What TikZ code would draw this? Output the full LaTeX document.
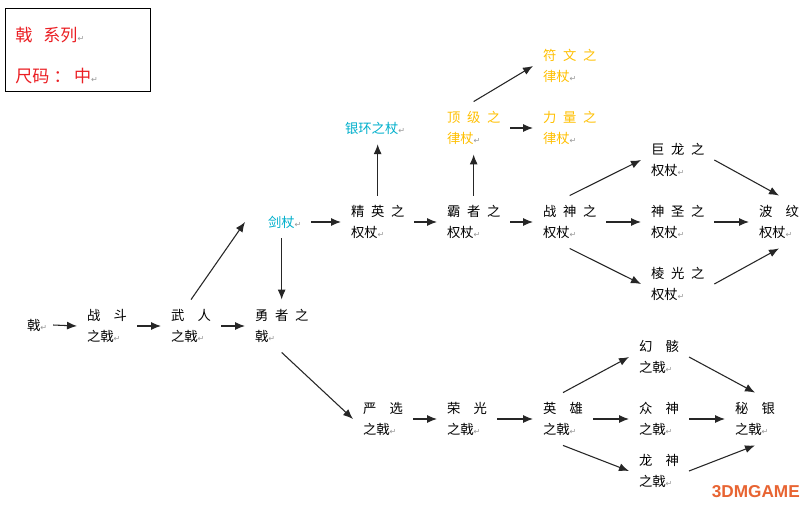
\documentclass[tikz,border=0pt]{standalone}
\usepackage{fontspec}
\setmainfont{Noto Sans CJK SC}
\newfontfamily\djv{DejaVu Sans}
\newfontfamily\wmfont{Liberation Sans}
\usetikzlibrary{arrows.meta}
\definecolor{cyantext}{RGB}{0,176,204}
\definecolor{goldtext}{RGB}{255,192,0}
\definecolor{redtext}{RGB}{235,30,35}
\definecolor{pmgray}{RGB}{150,150,150}
\definecolor{wmcolor}{RGB}{232,100,50}
\newcommand\pmk{{\djv\fontsize{6pt}{6pt}\selectfont\color{pmgray}↵}}
\newcommand\hs{\hspace{0.5em}}
\newcommand\fs{\hspace{1em}}
\tikzset{
  item/.style={anchor=west, inner sep=0pt, outer sep=7.5pt, align=left,
    font=\fontsize{10pt}{15.4pt}\selectfont, text=black},
  legendtext/.style={anchor=west, inner sep=0pt, text=redtext,
    font=\fontsize{12.8pt}{14pt}\selectfont},
  arr/.style={-{Latex[length=7.5pt,width=6pt]}, line width=0.8pt, draw=black!85}
}
\begin{document}
\begin{tikzpicture}[x=0.75pt,y=-0.75pt]
\useasboundingbox (0,0) rectangle (803,507);
\fill[white] (0,0) rectangle (803,507);
% legend box
\draw[line width=0.75pt] (5,8) rectangle (150,91);
\node[legendtext] (lg1) at (15,35) {戟\hspace{0.65em}系列\pmk};
\node[legendtext] (lg2) at (15,76) {尺码\hspace{0.25em}：\hspace{0.2em}中\pmk};
% nodes (x = text left - 10px because of the outer sep)
\node[item] (ji) at (17,325) {戟\pmk};
\node[item] (zd) at (77,326) {战\fs 斗\\之戟\pmk};
\node[item] (wr) at (161,326) {武\fs 人\\之戟\pmk};
\node[item] (yz) at (245,326) {勇\hs 者\hs 之\\戟\pmk};
\node[item, text=cyantext] (jz) at (258,222) {剑杖\pmk};
\node[item] (jy) at (341,222) {精\hs 英\hs 之\\权杖\pmk};
\node[item, text=cyantext] (yh) at (335,128) {银环之杖\pmk};
\node[item] (bz) at (437,222) {霸\hs 者\hs 之\\权杖\pmk};
\node[item, text=goldtext] (dj) at (437,128) {顶\hs 级\hs 之\\律杖\pmk};
\node[item, text=goldtext] (fw) at (533,66) {符\hs 文\hs 之\\律杖\pmk};
\node[item, text=goldtext] (ll) at (533,128) {力\hs 量\hs 之\\律杖\pmk};
\node[item] (zs) at (533,222) {战\hs 神\hs 之\\权杖\pmk};
\node[item] (jl) at (641,160) {巨\hs 龙\hs 之\\权杖\pmk};
\node[item] (ss) at (641,222) {神\hs 圣\hs 之\\权杖\pmk};
\node[item] (lgz) at (641,284) {棱\hs 光\hs 之\\权杖\pmk};
\node[item] (bw) at (749,222) {波\fs 纹\\权杖\pmk};
\node[item] (yx) at (353,419) {严\fs 选\\之戟\pmk};
\node[item] (rg) at (437,419) {荣\fs 光\\之戟\pmk};
\node[item] (yxz) at (533,419) {英\fs 雄\\之戟\pmk};
\node[item] (hh) at (629,357) {幻\fs 骸\\之戟\pmk};
\node[item] (zhs) at (629,419) {众\fs 神\\之戟\pmk};
\node[item] (ls) at (629,471) {龙\fs 神\\之戟\pmk};
\node[item] (my) at (725,419) {秘\fs 银\\之戟\pmk};
% watermark
\node[anchor=east, inner sep=0pt, text=wmcolor, font=\wmfont\bfseries\fontsize{12.9pt}{13pt}\selectfont] (wm) at (800,492) {3DMGAME};
% arrows
\draw[arr] ([xshift=-3pt]ji.east) -- (zd.west);
\draw[arr] (zd.east) -- (wr.west);
\draw[arr] (wr.east) -- (yz.west);
\draw[arr] (wr.north) -- ([xshift=-9.75pt]jz.west);
\draw[arr] (jz.south -| yz.north) -- (yz.north);
\draw[arr] (jz.east) -- (jy.west);
\draw[arr] (jy.north) -- (jy.north |- yh.south);
\draw[arr] (jy.east) -- (bz.west);
\draw[arr] (bz.north) -- (dj.south);
\draw[arr] (dj.north) -- (fw.west);
\draw[arr] (dj.east) -- (ll.west);
\draw[arr] (bz.east) -- (zs.west);
\draw[arr] (zs.north) -- (jl.west);
\draw[arr] (zs.east) -- (ss.west);
\draw[arr] (zs.south) -- (lgz.west);
\draw[arr] (jl.east) -- (bw.north);
\draw[arr] (ss.east) -- (bw.west);
\draw[arr] (lgz.east) -- (bw.south);
\draw[arr] (yz.south) -- (yx.west);
\draw[arr] (yx.east) -- (rg.west);
\draw[arr] (rg.east) -- (yxz.west);
\draw[arr] (yxz.north) -- (hh.west);
\draw[arr] (yxz.east) -- (zhs.west);
\draw[arr] (yxz.south) -- (ls.west);
\draw[arr] (hh.east) -- (my.north);
\draw[arr] (zhs.east) -- (my.west);
\draw[arr] (ls.east) -- (my.south);
\end{tikzpicture}
\end{document}
